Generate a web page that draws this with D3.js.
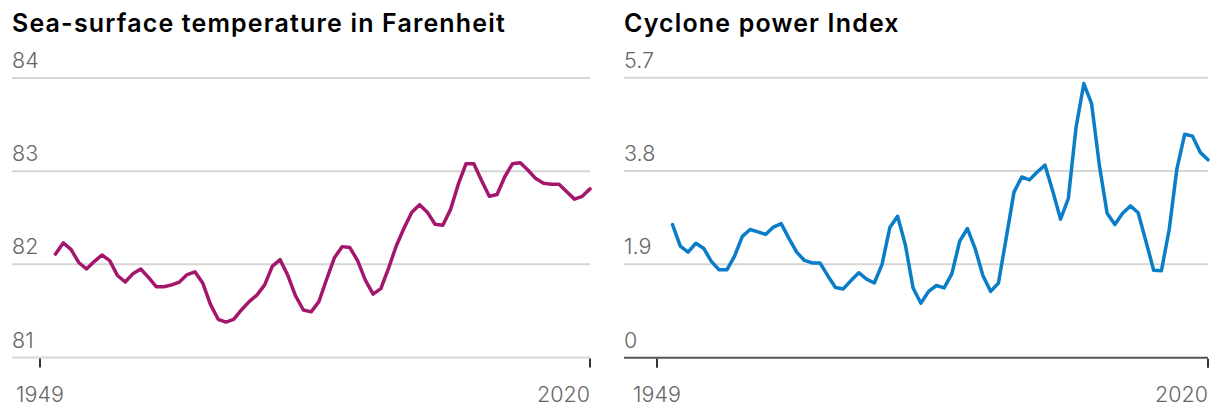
<!DOCTYPE html>
<html>
<head>
<meta charset="utf-8">
<script src="https://cdn.jsdelivr.net/npm/d3@7"></script>
<style>
  html, body { margin: 0; padding: 0; background: #fff; }
  svg { display: block; }
  .title { font-family: Inter, "Noto Sans", sans-serif; font-weight: 600; font-size: 25px; letter-spacing: 1.15px; fill: #000; }
  .tick-label { font-family: Inter, "Noto Sans", sans-serif; font-weight: 300; font-size: 21.5px; fill: #666; }
</style>
</head>
<body>
<svg id="chart" width="1220" height="414"></svg>
<script>
// ---- Data ----
const years = d3.range(1951, 2021);
const seaTemp = [
  82.11, 82.23, 82.16, 82.02, 81.95, 82.03, 82.10, 82.04, 81.88, 81.81,
  81.90, 81.95, 81.86, 81.76, 81.76, 81.78, 81.81, 81.89, 81.92, 81.80,
  81.57, 81.41, 81.38, 81.41, 81.51, 81.60, 81.67, 81.78, 81.98, 82.05,
  81.88, 81.66, 81.51, 81.49, 81.60, 81.84, 82.07, 82.19, 82.18, 82.04,
  81.83, 81.68, 81.74, 81.96, 82.20, 82.39, 82.56, 82.64, 82.56, 82.43,
  82.42, 82.59, 82.86, 83.08, 83.08, 82.90, 82.73, 82.75, 82.94, 83.08,
  83.09, 83.01, 82.92, 82.87, 82.86, 82.86, 82.78, 82.70, 82.73, 82.81
];
const cyclonePower = [
  2.71, 2.27, 2.15, 2.33, 2.23, 1.96, 1.79, 1.79, 2.07, 2.47,
  2.61, 2.56, 2.51, 2.66, 2.73, 2.43, 2.15, 1.98, 1.93, 1.93,
  1.67, 1.43, 1.40, 1.57, 1.73, 1.60, 1.52, 1.90, 2.65, 2.88,
  2.30, 1.42, 1.11, 1.35, 1.47, 1.42, 1.71, 2.37, 2.63, 2.22,
  1.67, 1.35, 1.52, 2.44, 3.37, 3.68, 3.62, 3.78, 3.92, 3.39,
  2.82, 3.24, 4.69, 5.58, 5.17, 3.92, 2.94, 2.71, 2.94, 3.09,
  2.95, 2.37, 1.78, 1.77, 2.61, 3.85, 4.55, 4.51, 4.18, 4.03
];
const xTicks = [1949, 2020];
const seaTicks = [81, 82, 83, 84];
const cycloneTicks = [0, 1.9, 3.8, 5.7];
const titles = ["Sea-surface temperature in Farenheit", "Cyclone power Index"];

// ---- Layout ----
const svg = d3.select("#chart");
const panels = [
  { title: titles[0], values: seaTemp, ticks: seaTicks, domain: [81, 84], color: "#a3166b",
    gridLeft: 12, xRange: [40, 590], yRange: [357.5, 78], darkBase: false, fmt: d => d3.format("d")(d) },
  { title: titles[1], values: cyclonePower, ticks: cycloneTicks, domain: [0, 5.7], color: "#0a7dc8",
    gridLeft: 624, xRange: [657, 1208], yRange: [357.7, 77.7], darkBase: true, fmt: d => d === 0 ? "0" : d3.format(".1f")(d) }
];

panels.forEach(p => {
  const g = svg.append("g");
  const x = d3.scaleLinear().domain([1949, 2020]).range(p.xRange);
  const y = d3.scaleLinear().domain(p.domain).range(p.yRange);

  g.append("text").attr("class", "title")
    .attr("x", p.gridLeft).attr("y", 32).text(p.title);

  // gridlines
  p.ticks.forEach((t, i) => {
    const base = i === 0;
    g.append("line")
      .attr("x1", p.gridLeft).attr("x2", p.xRange[1])
      .attr("y1", y(t)).attr("y2", y(t))
      .attr("stroke", base && p.darkBase ? "#555" : "#d6d6d6")
      .attr("stroke-width", 2);
    g.append("text").attr("class", "tick-label")
      .attr("x", p.gridLeft).attr("y", y(t) - 10)
      .text(p.fmt(t));
  });

  // x axis ticks
  xTicks.forEach((t, i) => {
    g.append("line")
      .attr("x1", x(t)).attr("x2", x(t))
      .attr("y1", p.yRange[0] + 1).attr("y2", p.yRange[0] + 10)
      .attr("stroke", "#333").attr("stroke-width", 2);
    g.append("text").attr("class", "tick-label")
      .attr("x", x(t)).attr("y", 402)
      .attr("text-anchor", i === 0 ? "middle" : "end")
      .text(t);
  });

  const line = d3.line().x((d, i) => x(years[i])).y(d => y(d));
  g.append("path").datum(p.values)
    .attr("d", line)
    .attr("fill", "none")
    .attr("stroke", p.color)
    .attr("stroke-width", 3.5)
    .attr("stroke-linejoin", "round")
    .attr("stroke-linecap", "round");
});
</script>
</body>
</html>
